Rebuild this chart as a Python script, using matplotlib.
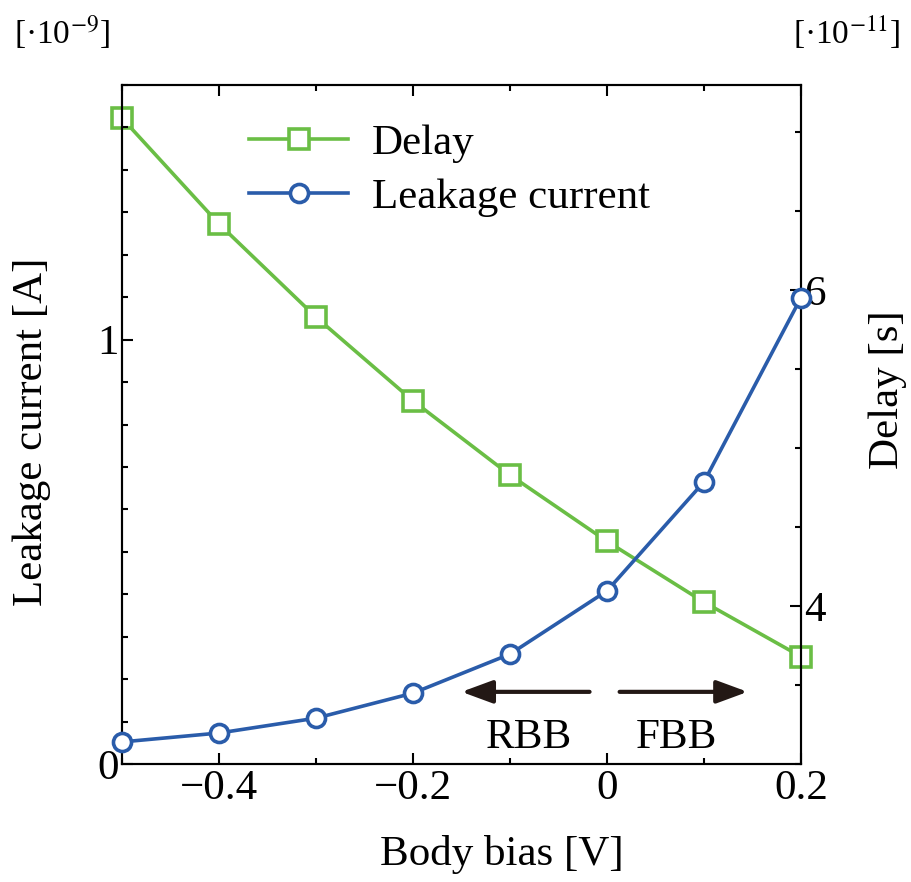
import matplotlib.pyplot as plt
from matplotlib.ticker import MultipleLocator

plt.rcParams['font.family'] = ['Liberation Serif', 'DejaVu Serif']
plt.rcParams['mathtext.fontset'] = 'stix'

# Body bias [V]
body_bias = [-0.5, -0.4, -0.3, -0.2, -0.1, 0.0, 0.1, 0.2]
# Leakage current [1e-9 A]
leakage = [0.052, 0.073, 0.108, 0.167, 0.259, 0.408, 0.665, 1.099]
# Delay [1e-11 s]
delay = [7.09, 6.42, 5.83, 5.30, 4.83, 4.41, 4.025, 3.68]

green = '#6ABE45'
blue = '#2A5CAA'
fs = 31

fig = plt.figure(figsize=(9.12, 8.82), dpi=100)
ax = fig.add_axes([0.1338, 0.1338, 0.7445, 0.7698])
ax2 = ax.twinx()

l2, = ax2.plot(body_bias, delay, color=green, lw=2.6, marker='s', ms=14,
               mfc='white', mec=green, mew=2.6, label='Delay', clip_on=False)
l1, = ax.plot(body_bias, leakage, color=blue, lw=2.6, marker='o', ms=13,
              mfc='white', mec=blue, mew=2.6, label='Leakage current',
              clip_on=False, zorder=5)
ax.set_zorder(ax2.get_zorder() + 1)
ax.patch.set_visible(False)

ax.set_xlim(-0.5, 0.2)
ax.set_ylim(0, 1.6)
ax2.set_ylim(3, 7.3)

ax.xaxis.set_major_locator(MultipleLocator(0.2))
ax.xaxis.set_minor_locator(MultipleLocator(0.1))
ax.yaxis.set_major_locator(MultipleLocator(1))
ax.yaxis.set_minor_locator(MultipleLocator(0.1))
ax2.yaxis.set_major_locator(MultipleLocator(2))
ax2.yaxis.set_minor_locator(MultipleLocator(0.5))

ax.set_xticks([-0.4, -0.2, 0, 0.2])
ax.set_xticklabels(['\u22120.4', '\u22120.2', '0', '0.2'])
ax.set_yticks([0, 1])
ax.set_yticklabels(['0', '1'])
ax2.set_yticks([4, 6])
ax2.set_yticklabels(['4', '6'])

for a in (ax, ax2):
    for s in a.spines.values():
        s.set_linewidth(1.5)
ax.tick_params(which='both', direction='in', top=True, labelsize=fs, width=1.5, pad=4)
ax.tick_params(which='major', length=8)
ax.tick_params(which='minor', length=4)
ax.tick_params(axis='y', pad=2)
ax2.tick_params(which='both', direction='in', labelsize=fs, width=1.5, pad=2)
ax2.tick_params(which='major', length=8)
ax2.tick_params(which='minor', length=4)

ax.set_xlabel('Body bias [V]', fontsize=fs)
ax.xaxis.set_label_coords(0.56, -0.105)
ax.set_ylabel('Leakage current [A]', fontsize=fs)
ax.yaxis.set_label_coords(-0.104, 0.49)
ax2.set_ylabel('Delay [s]', fontsize=fs)
ax2.yaxis.set_label_coords(1.1, 0.552)

fig.text(0.015, 0.963, '[·10$^{-9}$]', fontsize=24, va='center', ha='left')
fig.text(0.988, 0.963, '[·10$^{-11}$]', fontsize=24, va='center', ha='right')

ax.legend(handles=[l2, l1], loc='upper left', bbox_to_anchor=(0.13, 1.0),
          frameon=False, fontsize=fs, handlelength=2.3, handletextpad=0.55,
          labelspacing=0.35)

arrow_col = '#231815'
head = '-|>,head_length=1.9,head_width=0.7'
ax.annotate('', xy=(-0.15, 0.17), xytext=(-0.018, 0.17),
            arrowprops=dict(arrowstyle=head, color=arrow_col, lw=3,
                            shrinkA=0, shrinkB=0))
ax.annotate('', xy=(0.145, 0.17), xytext=(0.013, 0.17),
            arrowprops=dict(arrowstyle=head, color=arrow_col, lw=3,
                            shrinkA=0, shrinkB=0))
ax.text(-0.081, 0.062, 'RBB', fontsize=fs, ha='center', va='center')
ax.text(0.072, 0.062, 'FBB', fontsize=fs, ha='center', va='center')

fig.savefig('out.png', dpi=100)
